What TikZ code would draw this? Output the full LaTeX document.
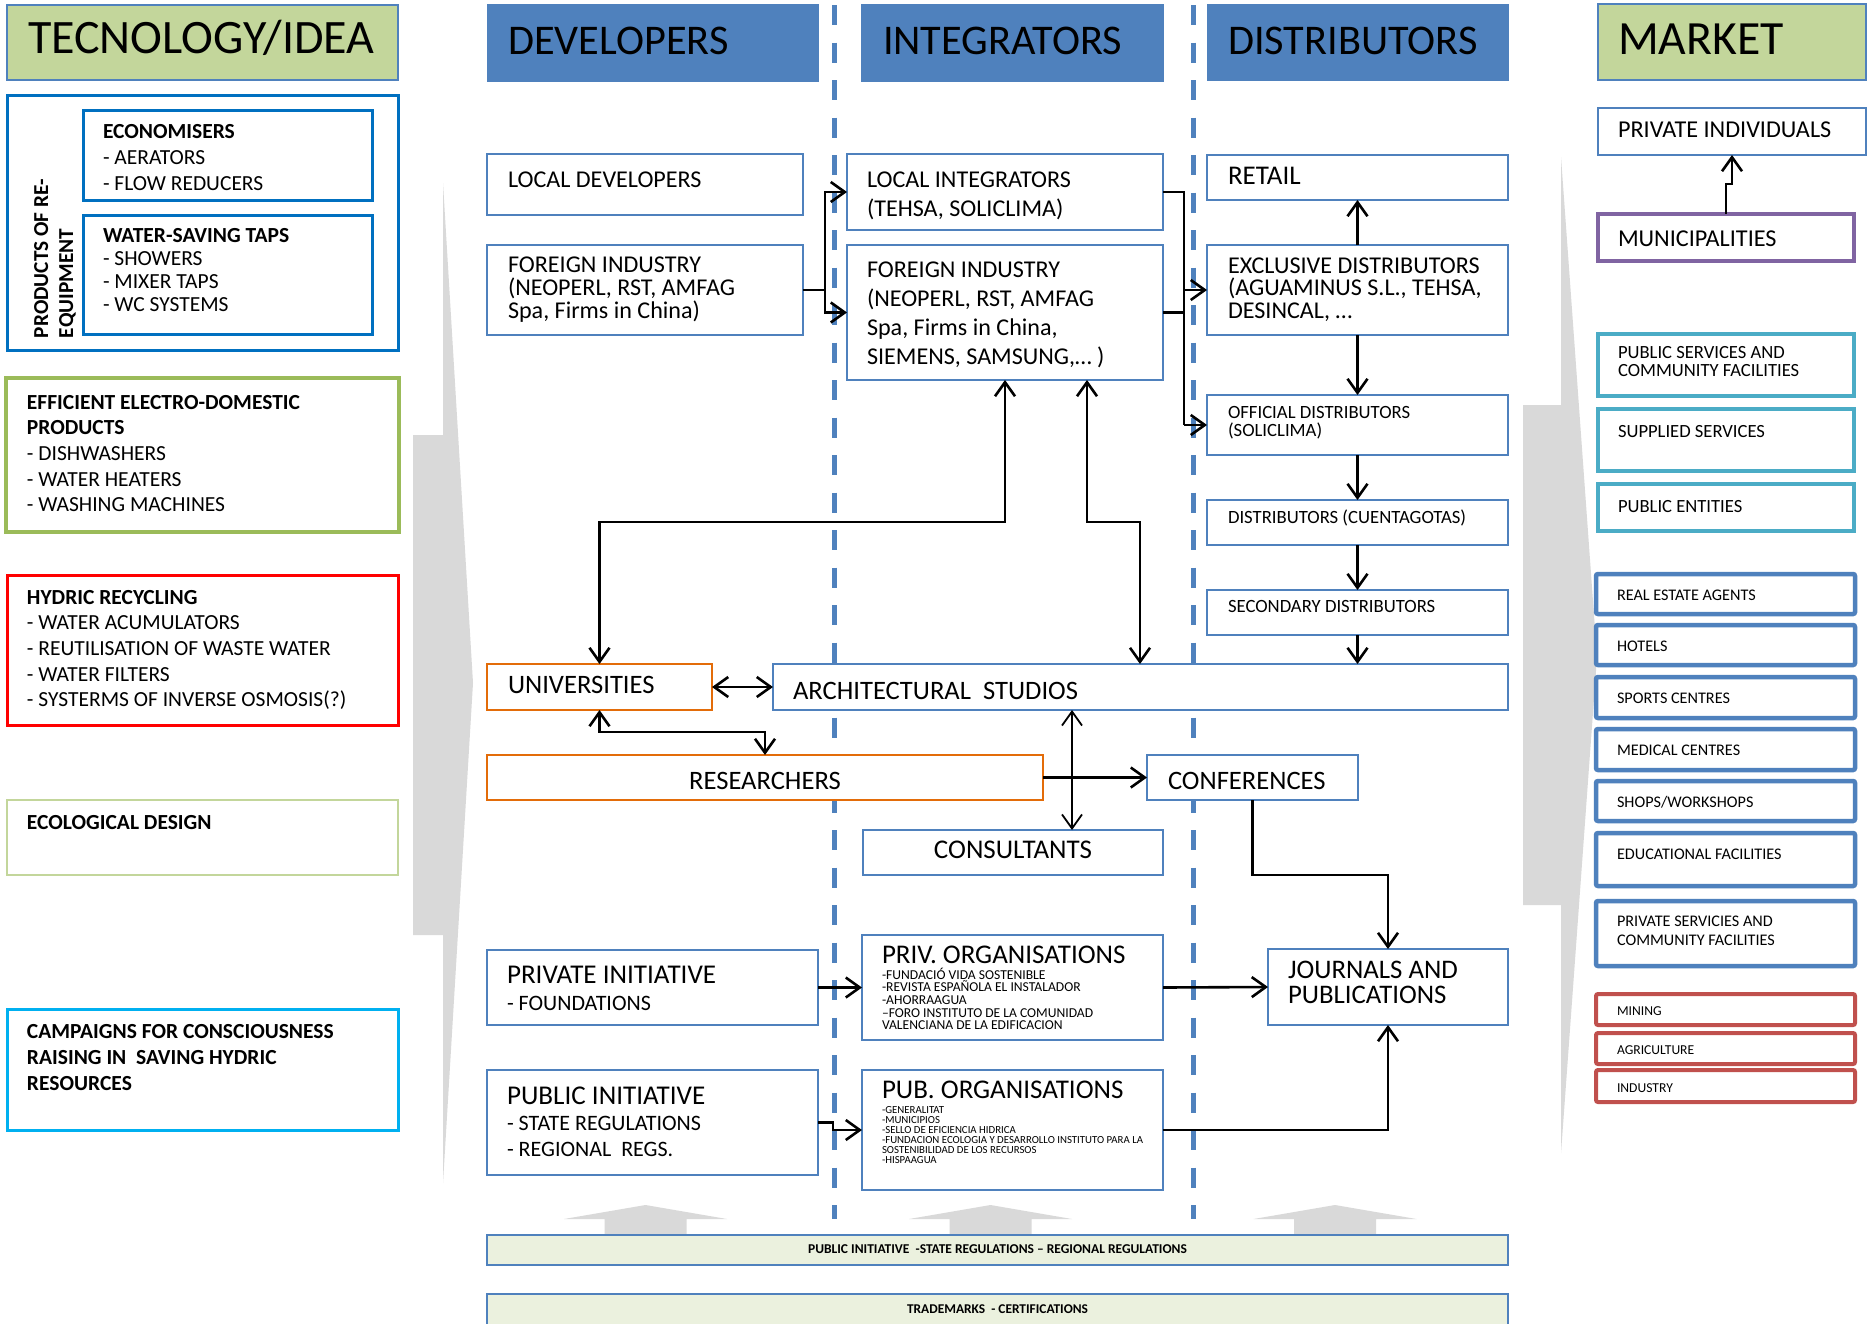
\documentclass[tikz,border=0pt]{standalone}
\usepackage{fontspec}
\setmainfont{Carlito}
\usetikzlibrary{arrows.meta,calc}
\definecolor{hblue}{HTML}{4F81BD}
\definecolor{hgreen}{HTML}{C3D69B}
\definecolor{pblue}{HTML}{0070C0}
\definecolor{egreen}{HTML}{9BBB59}
\definecolor{cyanB}{HTML}{00B0F0}
\definecolor{orangeB}{HTML}{E36C09}
\definecolor{purpleB}{HTML}{8064A2}
\definecolor{tealB}{HTML}{4BACC6}
\definecolor{redB}{HTML}{C0504D}
\definecolor{barfill}{HTML}{EBF1DE}
\definecolor{grayA}{HTML}{D9D9D9}
\newcommand{\fsz}[1]{\fontsize{#1}{#1}\selectfont}
\newcommand{\ml}[2]{\vtop{\baselineskip=#1pt\lineskiplimit=-100pt\lineskip=0pt\halign{##\hfil\cr#2\crcr}}}
\newcommand{\bx}[6]{\node[#1, minimum width={#5-#3}, minimum height={#6-#4}] (#2) at ({(#3+#5)/2},{(#4+#6)/2}) {};}
\tikzset{
 bxs/.style={draw, fill=white, inner sep=0pt, outer sep=0pt},
 mid/.style={bxs, draw=hblue, line width=2.2pt},
 hdrB/.style={bxs, fill=hblue, draw=hblue, line width=1pt},
 hdrG/.style={bxs, fill=hgreen, draw=hblue, line width=2.5pt},
 prodS/.style={bxs, draw=pblue, line width=3pt},
 effS/.style={bxs, draw=egreen, line width=4.5pt},
 hydS/.style={bxs, draw=red, line width=3pt},
 ecoS/.style={bxs, draw=hgreen, line width=2.5pt},
 campS/.style={bxs, draw=cyanB, line width=3pt},
 orgS/.style={bxs, draw=orangeB, line width=2.2pt},
 purS/.style={bxs, draw=purpleB, line width=4.5pt},
 tealS/.style={bxs, draw=tealB, line width=4.5pt},
 mbS/.style={bxs, draw=hblue, line width=4.5pt, rounded corners=2pt},
 mrS/.style={bxs, draw=redB, line width=4pt, rounded corners=2pt},
 barS/.style={bxs, fill=barfill, draw=hblue, line width=2.5pt},
 txt/.style={inner sep=0pt, outer sep=0pt, anchor=base west},
 ctxt/.style={inner sep=0pt, outer sep=0pt, anchor=base},
 conn/.style={draw=black, line width=2.6pt},
 sepline/.style={draw=hblue, line width=5pt, dash pattern=on 20pt off 17.5pt},
}
\begin{document}
\begin{tikzpicture}[x=1pt,y=-1pt,>={Straight Barb[length=14pt,width=20pt]}]
\fill[white] (0,0) rectangle (1868,1323);
\useasboundingbox (0,0) rectangle (1868,1323);

% big gray arrows
\fill[grayA] (413,435) -- (443,435) -- (443,183) -- (473,683) -- (443,1183) -- (443,935) -- (413,935) -- cycle;
\fill[grayA] (1523,405) -- (1561,405) -- (1561,157) -- (1597,657) -- (1561,1153) -- (1561,905) -- (1523,905) -- cycle;
\foreach \c in {645.5,990.5,1335}{
 \fill[grayA] ({\c-41},1235) -- ({\c-41},1219) -- ({\c-81.5},1219) -- (\c,1205) -- ({\c+81.5},1219) -- ({\c+41},1219) -- ({\c+41},1235) -- cycle;
}

% separators
\draw[sepline] (834,5) -- (834,1219);
\draw[sepline] (1193,5) -- (1193,1219);

% ---------- left column
\bx{hdrG}{tech}{7}{5}{398}{80}
\node[txt,font=\fsz{48}] (techT) at (28,53) {TECNOLOGY/IDEA};
\bx{prodS}{prod}{7}{95}{398}{350}
\bx{prodS}{econ}{83}{110}{372}{200}
\node[txt,font=\fsz{21.5}] (econT) at (103,138) {\ml{26}{\textbf{ECONOMISERS}\cr - AERATORS\cr - FLOW REDUCERS}};
\bx{prodS}{taps}{83}{215}{372}{334}
\node[txt,font=\fsz{21.5}] (tapsT) at (103,242) {\ml{23}{\textbf{WATER-SAVING TAPS}\cr - SHOWERS\cr - MIXER TAPS\cr - WC SYSTEMS}};
\node[txt,rotate=90,font=\bfseries\fsz{21.3}] (prodT) at (48,338) {\ml{25}{PRODUCTS OF RE-\cr EQUIPMENT}};
\bx{effS}{eff}{6}{378}{399}{532}
\node[txt,font=\fsz{21.5}] (effT) at (27,409) {\ml{25.7}{\textbf{EFFICIENT ELECTRO-DOMESTIC}\cr\textbf{PRODUCTS}\cr - DISHWASHERS\cr - WATER HEATERS\cr - WASHING MACHINES}};
\bx{hydS}{hyd}{7}{575}{398}{725}
\node[txt,font=\fsz{21.5}] (hydT) at (27,604) {\ml{25.7}{\textbf{HYDRIC RECYCLING}\cr - WATER ACUMULATORS\cr - REUTILISATION OF WASTE WATER\cr - WATER FILTERS\cr - SYSTERMS OF INVERSE OSMOSIS(?)}};
\bx{ecoS}{eco}{7}{800}{398}{875}
\node[txt,font=\bfseries\fsz{21.5}] (ecoT) at (27,829) {ECOLOGICAL DESIGN};
\bx{campS}{camp}{7}{1009}{398}{1130}
\node[txt,font=\bfseries\fsz{21.5}] (campT) at (27,1038) {\ml{26}{CAMPAIGNS FOR CONSCIOUSNESS\cr RAISING IN\ \ SAVING HYDRIC\cr RESOURCES}};

% ---------- headers
\bx{hdrB}{devH}{487}{4}{818}{81}
\node[txt,font=\fsz{42.3}] (devHT) at (508,54) {DEVELOPERS};
\bx{hdrB}{intH}{861}{4}{1163}{81}
\node[txt,font=\fsz{42.3}] (intHT) at (883,54) {INTEGRATORS};
\bx{hdrB}{disH}{1207}{4}{1508}{80}
\node[txt,font=\fsz{42.3}] (disHT) at (1228,54) {DISTRIBUTORS};
\bx{hdrG}{mktH}{1598}{4}{1866}{80}
\node[txt,font=\fsz{47.7}] (mktHT) at (1618,54) {MARKET};

% ---------- developers / integrators / distributors
\bx{mid}{localdev}{487}{154}{803}{215}
\node[txt,font=\fsz{24.1}] (localdevT) at (508,187) {LOCAL DEVELOPERS};
\bx{mid}{foreigndev}{487}{245}{803}{335}
\node[txt,font=\fsz{24.1}] (foreigndevT) at (508,272) {\ml{23}{FOREIGN INDUSTRY\cr (NEOPERL, RST, AMFAG\cr Spa, Firms in China)}};
\bx{mid}{localint}{847}{154}{1163}{230}
\node[txt,font=\fsz{24.1}] (localintT) at (867,187) {\ml{29}{LOCAL INTEGRATORS\cr (TEHSA, SOLICLIMA)}};
\bx{mid}{foreignint}{847}{245}{1163}{380}
\node[txt,font=\fsz{24.1}] (foreignintT) at (867,277) {\ml{29}{FOREIGN INDUSTRY\cr (NEOPERL, RST, AMFAG\cr Spa, Firms in China,\cr SIEMENS, SAMSUNG,… )}};
\bx{mid}{retail}{1207}{155}{1508}{200}
\node[txt,font=\fsz{27}] (retailT) at (1228,184) {RETAIL};
\bx{mid}{excl}{1207}{245}{1508}{335}
\node[txt,font=\fsz{24.1}] (exclT) at (1228,273) {\ml{22.5}{EXCLUSIVE DISTRIBUTORS\cr (AGUAMINUS S.L., TEHSA,\cr DESINCAL, …}};
\bx{mid}{official}{1207}{395}{1508}{455}
\node[txt,font=\fsz{18.7}] (officialT) at (1228,418) {\ml{18}{OFFICIAL DISTRIBUTORS\cr (SOLICLIMA)}};
\bx{mid}{cuenta}{1207}{500}{1508}{545}
\node[txt,font=\fsz{18.7}] (cuentaT) at (1228,523) {DISTRIBUTORS (CUENTAGOTAS)};
\bx{mid}{secondary}{1207}{590}{1508}{635}
\node[txt,font=\fsz{18.7}] (secondaryT) at (1228,612) {SECONDARY DISTRIBUTORS};

\bx{orgS}{univ}{487}{664}{712}{710}
\node[txt,font=\fsz{26.6}] (univT) at (508,693) {UNIVERSITIES};
\bx{mid}{arch}{773}{664}{1508}{710}
\node[txt,font=\fsz{26.6}] (archT) at (793,699) {ARCHITECTURAL\ \ STUDIOS};
\bx{orgS}{research}{487}{755}{1043}{800}
\node[ctxt,font=\fsz{26.6}] (researchT) at (765,789) {RESEARCHERS};
\bx{mid}{conf}{1147}{755}{1358}{800}
\node[txt,font=\fsz{26.6}] (confT) at (1168,789) {CONFERENCES};
\bx{mid}{consult}{863}{830}{1163}{875}
\node[ctxt,font=\fsz{27}] (consultT) at (1013,858) {CONSULTANTS};

\bx{mid}{privinit}{487}{950}{818}{1025}
\node[txt] (privinitT) at (507,983) {\ml{27}{{\fsz{27.1}PRIVATE INITIATIVE}\cr{\fsz{22}- FOUNDATIONS}}};
\bx{mid}{pubinit}{487}{1070}{818}{1175}
\node[txt] (pubinitT) at (507,1104) {\ml{26}{{\fsz{27.1}PUBLIC INITIATIVE}\cr{\fsz{22}- STATE REGULATIONS}\cr{\fsz{22}- REGIONAL\ \ REGS.}}};
\bx{mid}{privorg}{862}{935}{1163}{1040}
\node[txt,font=\fsz{27}] (privorgT) at (882,963) {PRIV. ORGANISATIONS};
\node[txt,font=\fsz{13.6}] (privorgL) at (882,979) {\ml{12.7}{-FUNDACIÓ VIDA SOSTENIBLE\cr -REVISTA ESPAÑOLA EL INSTALADOR\cr -AHORRAAGUA\cr –FORO INSTITUTO DE LA COMUNIDAD\cr VALENCIANA DE LA EDIFICACION}};
\bx{mid}{puborg}{862}{1070}{1163}{1190}
\node[txt,font=\fsz{27}] (puborgT) at (882,1098) {PUB. ORGANISATIONS};
\node[txt,font=\fsz{10.8}] (puborgL) at (882,1113) {\ml{10}{-GENERALITAT\cr -MUNICIPIOS\cr -SELLO DE EFICIENCIA HIDRICA\cr -FUNDACION ECOLOGIA Y DESARROLLO INSTITUTO PARA LA\cr SOSTENIBILIDAD DE LOS RECURSOS\cr -HISPAAGUA}};
\bx{mid}{journals}{1268}{949}{1508}{1025}
\node[txt,font=\fsz{26.8}] (journalsT) at (1288,978) {\ml{25}{JOURNALS AND\cr PUBLICATIONS}};

\bx{barS}{pubbar}{487}{1235}{1508}{1265}
\node[ctxt,font=\bfseries\fsz{13.5}] (pubbarT) at (997.5,1253) {PUBLIC INITIATIVE\ \ -STATE REGULATIONS – REGIONAL REGULATIONS};
\bx{barS}{tmbar}{487}{1294}{1508}{1335}
\node[ctxt,font=\bfseries\fsz{13.4}] (tmbarT) at (997.5,1313) {TRADEMARKS\ \ - CERTIFICATIONS};

% ---------- market
\bx{mid}{privind}{1598}{108}{1866}{155}
\node[txt,font=\fsz{24.2}] (privindT) at (1618,137) {PRIVATE INDIVIDUALS};
\bx{purS}{muni}{1598}{214}{1854}{261}
\node[txt,font=\fsz{24.2}] (muniT) at (1618,246) {MUNICIPALITIES};
\bx{tealS}{pubserv}{1598}{334}{1854}{396}
\node[txt,font=\fsz{18.6}] (pubservT) at (1618,358) {\ml{18}{PUBLIC SERVICES AND\cr COMMUNITY FACILITIES}};
\bx{tealS}{supplied}{1598}{409}{1854}{471}
\node[txt,font=\fsz{18.6}] (suppliedT) at (1618,437) {SUPPLIED SERVICES};
\bx{tealS}{pubent}{1598}{484}{1854}{531}
\node[txt,font=\fsz{18.6}] (pubentT) at (1618,512) {PUBLIC ENTITIES};
\bx{mbS}{realestate}{1596}{574}{1855}{614}
\node[txt,font=\fsz{16.2}] (realestateT) at (1617,600) {REAL ESTATE AGENTS};
\bx{mbS}{hotels}{1596}{625}{1855}{665}
\node[txt,font=\fsz{16.2}] (hotelsT) at (1617,651) {HOTELS};
\bx{mbS}{sports}{1596}{677}{1855}{718}
\node[txt,font=\fsz{16.2}] (sportsT) at (1617,703) {SPORTS CENTRES};
\bx{mbS}{medical}{1596}{729}{1855}{770}
\node[txt,font=\fsz{16.2}] (medicalT) at (1617,755) {MEDICAL CENTRES};
\bx{mbS}{shops}{1596}{781}{1855}{821}
\node[txt,font=\fsz{16.2}] (shopsT) at (1617,807) {SHOPS/WORKSHOPS};
\bx{mbS}{educ}{1596}{833}{1855}{886}
\node[txt,font=\fsz{16.2}] (educT) at (1617,859) {EDUCATIONAL FACILITIES};
\bx{mbS}{privserv}{1596}{901}{1855}{966}
\node[txt,font=\fsz{16.2}] (privservT) at (1617,926) {\ml{19}{PRIVATE SERVICIES AND\cr COMMUNITY FACILITIES}};
\bx{mrS}{mining}{1596}{994}{1855}{1025}
\node[txt,font=\fsz{13.6}] (miningT) at (1617,1015) {MINING};
\bx{mrS}{agri}{1596}{1033}{1855}{1064}
\node[txt,font=\fsz{13.6}] (agriT) at (1617,1054) {AGRICULTURE};
\bx{mrS}{industry}{1596}{1070}{1855}{1102}
\node[txt,font=\fsz{13.6}] (industryT) at (1617,1092) {INDUSTRY};

% ---------- connectors
\coordinate (j1) at (825,290);
\draw[conn] (foreigndev.east) -- (j1);
\draw[conn,->] (j1) |- (localint.west);
\draw[conn,->] (j1) |- (foreignint.west);
\coordinate (j2) at (1184,192);
\coordinate (j3) at (1184,425);
\draw[conn] (localint.east) -- (j2) -- (j3);
\draw[conn,->] (j3) -- (official.west);
\draw[conn] (foreignint.east) -- (foreignint.east -| j2);
\draw[conn,->] (excl.west -| j2) -- (excl.west);

\draw[conn,->] (excl.north) -- (retail.south);
\draw[conn,->] (excl.south) -- (official.north);
\draw[conn,->] (official.south) -- (cuenta.north);
\draw[conn,->] (cuenta.south) -- (secondary.north);
\draw[conn,->] (secondary.south) -- (secondary.south |- arch.north);

\coordinate (lvl) at (0,522);
\coordinate (fa) at ($(foreignint.south west)+(158,0)$);
\coordinate (fb) at ($(foreignint.south west)+(240,0)$);
\coordinate (archin) at ($(arch.north west)+(367,0)$);
\draw[conn,<->] (fa) -- (fa |- lvl) -| (univ.north);
\draw[conn,<->] (fb) -- (fb |- lvl) -| (archin);

\draw[conn,<->] (univ.east) -- (arch.west);
\draw[conn,<->] (univ.south) -- ++(0,22) -| (research.north);
\draw[conn,->] (research.east) -- (conf.west);
\coordinate (ac) at ($(arch.south west)+(299,0)$);
\draw[conn,<->,line width=1.8pt] (ac) -- (ac |- consult.north);
\draw[conn,->] (conf.south) -- ++(0,75) -| (journals.north);
\draw[conn,->] (privinit.east) -- (privorg.west);
\draw[conn,->] (pubinit.east) -- ++(15,0) |- (puborg.west);
\draw[conn,->] (privorg.east) -- (journals.west);
\draw[conn,->] (puborg.east) -| (journals.south);
\draw[conn,->] (muni.north) -- ++(0,-30) -| (privind.south);
\end{tikzpicture}
\end{document}
